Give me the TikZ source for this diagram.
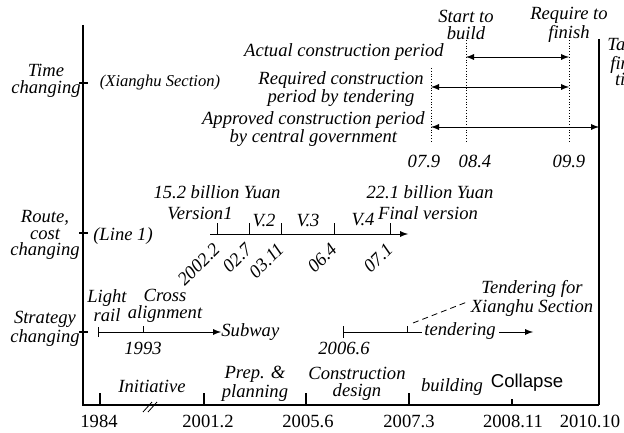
\documentclass[tikz,border=0pt]{standalone}
\usepackage{fontspec}
\setmainfont{Liberation Serif}
\newfontfamily\collfont{Liberation Sans}
\usetikzlibrary{arrows, positioning}

\begin{document}
\begin{tikzpicture}[
        x=0.5pt, y=-0.5pt,
        >=latex,
        lbl/.style={inner sep=0pt, font=\fontsize{9.3}{8.2}\selectfont\itshape, align=center},
        smalllbl/.style={inner sep=0pt, font=\fontsize{8.3}{8}\selectfont\itshape, align=center},
        yearlbl/.style={inner sep=0pt, font=\fontsize{9.3}{8.2}\selectfont},
        datelbl/.style={lbl, rotate=45, anchor=east},
        mainaxis/.style={draw, semithick},
        bartick/.style={draw, line width=1.3pt},
        tline/.style={draw, thin},
        guide/.style={draw, densely dotted, thin},
        period/.style={draw, thin, <->}
    ]
        \useasboundingbox (0,0) rectangle (624,432);

        % Axes: left axis, time axis, target line
        \coordinate (top) at (83,25);
        \coordinate (orig) at (83,405);
        \coordinate (tend) at (599,405);
        \coordinate (ttop) at (599,39);
        \draw [mainaxis] (top) -- (orig) -- (tend);
        \draw [mainaxis] (ttop) -- (tend);

        % Row titles
        \node [lbl] (tchg) at (46,81) {Time\\changing};
        \node [lbl] (rchg) at (45,235) {Route,\\cost\\changing};
        \node [lbl] (schg) at (45,329) {Strategy\\changing};
        \foreach \y in {83,233,332}
            \draw [mainaxis] (79,\y) -- (88,\y);

        % Time axis ticks and years
        \foreach \x/\lx/\yr in {100/99/1984, 204/208/2001.2, 306/308/2005.6, 409/409/2007.3, 599/590/2010.10} {
            \draw [bartick] (\x,405) -- (\x,393);
            \node [yearlbl] (yr\x) at (\lx,421) {\yr};
        }
        \draw [bartick] (512,405) -- (512,399);
        \node [yearlbl] (yr512) at (513,421) {2008.11};
        % break mark
        \draw [tline] (143,412) -- (152,402);
        \draw [tline] (148,412) -- (157,402);

        % Phases
        \node [lbl] (init) at (152,386) {Initiative};
        \node [lbl] (prep) at (255,384) {Prep. \&\\planning};
        \node [lbl] (cdes) at (357,384) {Construction\\design};
        \node [lbl] (bld) at (452,387) {building};
        \node [inner sep=0pt, font=\fontsize{9.3}{8.2}\collfont] (coll) at (527,383) {Collapse};

        % Time changing (Xianghu Section)
        \node [smalllbl] (xsec) at (160,83) {(Xianghu Section)};
        \node [lbl] (start) at (466,25) {Start to\\build};
        \node [lbl] (req) at (569,25) {Require to\\finish};
        \node [lbl] (target) at (631,62) {Target\\finish\\time};
        \coordinate (s0) at (466,40);
        \coordinate (s1) at (466,143);
        \coordinate (f0) at (569,40);
        \coordinate (f1) at (569,143);
        \coordinate (a0) at (431,68);
        \coordinate (a1) at (431,143);
        \draw [guide] (s0) -- (s1);
        \draw [guide] (f0) -- (f1);
        \draw [guide] (a0) -- (a1);
        \draw [period] (466,57) -- (569,57);
        \draw [period] (431,87) -- (569,87);
        \draw [period] (431,127) -- (599,127);
        \node [lbl, anchor=east] (actual) at (444,52) {Actual construction period};
        \node [lbl, anchor=east] (tender) at (424,89) {Required construction\\period by tendering};
        \node [lbl, anchor=east] (approved) at (425,129) {Approved construction period\\by central government};
        \node [lbl] (d079) at (424,161) {07.9};
        \node [lbl] (d084) at (475,161) {08.4};
        \node [lbl] (d099) at (569,161) {09.9};

        % Route, cost changing (Line 1)
        \node [lbl] (line1) at (123,236) {(Line 1)};
        \coordinate (r0) at (210,234);
        \coordinate (r1) at (408,234);
        \draw [tline, ->] (r0) -- (r1);
        \foreach \x/\d in {217/2002.2, 249/02.7, 281/03.11, 334/06.4, 390/07.1} {
            \draw [tline] (\x,234) -- (\x,223);
            \node [datelbl] (d\x) at (\x,246) {\d};
        }
        \node [lbl] (cost1) at (217,192) {15.2 billion Yuan};
        \node [lbl] (ver1) at (200,213) {Version1};
        \node [lbl] (ver2) at (264,220) {V.2};
        \node [lbl] (ver3) at (308,220) {V.3};
        \node [lbl] (ver4) at (363,220) {V.4};
        \node [lbl] (cost2) at (430,192) {22.1 billion Yuan};
        \node [lbl] (verf) at (428,213) {Final version};

        % Strategy changing
        \coordinate (l0) at (98,332);
        \coordinate (l1) at (143,332);
        \draw [tline] (98,327) -- (98,337);
        \draw [tline] (143,326) -- (143,332);
        \node [lbl, anchor=west] (subway) at (221,332) {Subway};
        \draw [tline, ->] (l0) -- (subway.west);
        \node [lbl] (lrail) at (107,306) {Light\\rail};
        \node [lbl] (cross) at (165,306) {Cross\\alignment};
        \node [lbl] (y1993) at (143,348) {1993};

        % Tendering
        \coordinate (t0) at (343,332);
        \coordinate (t1) at (407,332);
        \node [lbl] (tdr) at (460,331) {tendering};
        \coordinate (tarr) at (533,332);
        \draw [tline] (343,326) -- (343,338);
        \draw [tline] (407,326) -- (407,332);
        \draw [tline] (t0) -- ([xshift=-1pt]tdr.west |- t0);
        \draw [tline, ->] ([xshift=1.5pt]tdr.east |- t0) -- (tarr);
        \node [lbl] (y2006) at (344,348) {2006.6};
        \node [lbl] (tfor) at (532,298) {Tendering for\\Xianghu Section};
        \draw [draw, densely dashed, thin] (413,323) -- (467,302);
    \end{tikzpicture}
\end{document}
